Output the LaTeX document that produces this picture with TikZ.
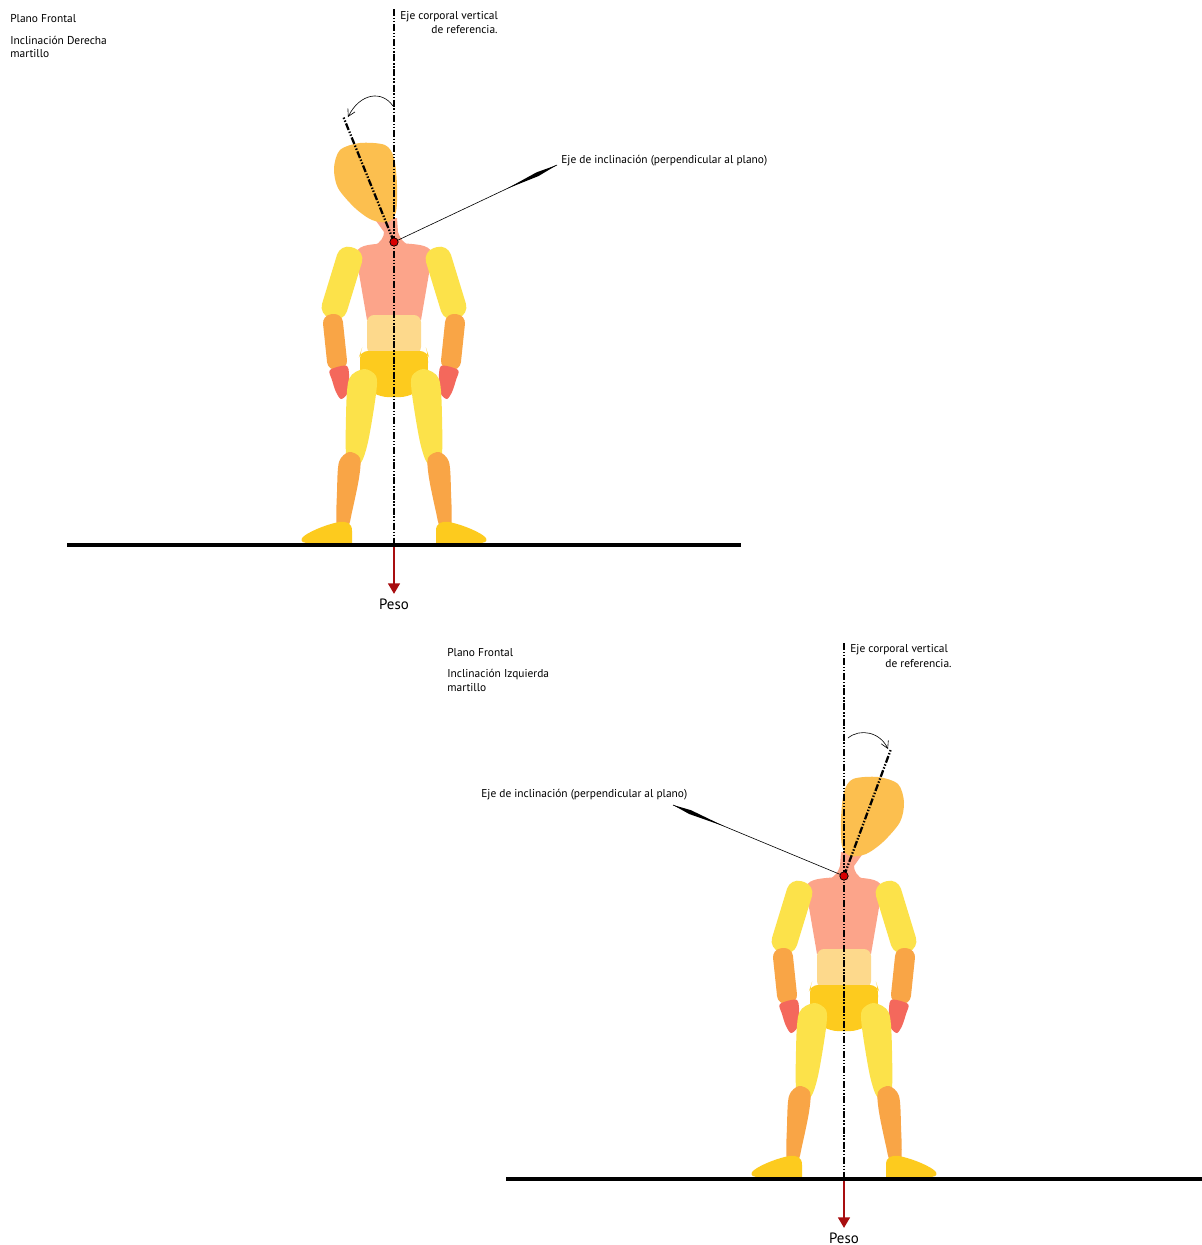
\documentclass[tikz,border=0pt]{standalone}
\usepackage{fontspec}
\setmainfont{PT Sans}
\usetikzlibrary{arrows.meta,calc}

% body colours
\definecolor{headC}{HTML}{FCBF4F}
\definecolor{torsoC}{HTML}{FCA48A}
\definecolor{limbY}{HTML}{FCE24A}
\definecolor{limbO}{HTML}{F9A546}
\definecolor{handC}{HTML}{F4685C}
\definecolor{waistC}{HTML}{FDD98C}
\definecolor{hipC}{HTML}{FDCB1E}
\definecolor{weightred}{HTML}{A80E10}

% one arm and one leg (left side of the body), origin at the base of the neck
\newcommand\figlimbs{%
  \fill[limbY, rounded corners=6.5pt, rotate around={-17:(-52,41)}] (-65,4) rectangle (-39,78);
  \fill[limbO, rounded corners=5pt, rotate around={6:(-59,100)}] (-69,72) rectangle (-49,128);
  \fill[handC] plot[smooth cycle] coordinates {(-64,128) (-47,124) (-45,140) (-47,152) (-53,157) (-58,150) (-62,138)};
  \fill[limbY] plot[smooth cycle] coordinates {(-45,137) (-30,127) (-18,134) (-18,152) (-26,200) (-34,222) (-47,222) (-48,175)};
  \fill[limbO] plot[smooth cycle] coordinates {(-55,220) (-45,210) (-34,216) (-35,236) (-42,270) (-46,284) (-57,284) (-57,250)};
  \fill[hipC] (-42,301) -- (-42,289) .. controls (-42,281) and (-47,279) .. (-55,280)
    .. controls (-70,283) and (-88,291) .. (-92,296) .. controls (-94,300) and (-90,301) .. (-85,301) -- cycle;
}

\tikzset{
  lbl/.style={font=\fontsize{6.5}{8}\selectfont, inner sep=0pt},
  pesolbl/.style={font=\fontsize{8.5}{10}\selectfont, inner sep=0pt},
  refaxis/.style={line width=1.3pt, dash pattern=on 4pt off 1pt on 0.8pt off 1pt on 0.8pt off 1pt},
  groundline/.style={line width=2.3pt},
  weight/.style={draw=weightred, line width=1.5pt, -{Triangle[length=6pt,width=6.5pt]}},
  rotarrow/.style={line width=0.35pt, -{Straight Barb[length=4pt,width=4.5pt]}},
  leader/.style={line width=0.35pt},
  pivotdot/.style={fill=red!85!black, draw=black, line width=0.4pt},
  % whole figure, origin at the base of the neck
  pics/body/.style={code={
    \fill[torsoC] (-20,-24) -- (3,-24) -- (4,-10) .. controls (6,-3) and (10,1) .. (16,4)
      -- (-20,4) .. controls (-13,0) and (-10,-5) .. (-10,-10) -- cycle;
    \fill[headC] plot[smooth cycle] coordinates {(-54,-92) (-34,-99) (-9,-97) (0,-84) (3,-57) (2,-30) (-6,-20) (-22,-22) (-39,-34) (-56,-54) (-60,-74)};
    \fill[torsoC] (-27,78) -- (-38,14) .. controls (-38,4) and (-30,2) .. (0,1)
      .. controls (30,2) and (38,4) .. (38,14) -- (27,78) -- cycle;
    \fill[waistC, rounded corners=4pt] (-27,73) rectangle (27,112);
    \fill[hipC, rounded corners=4pt] (-34,112) -- (-33,109) -- (33,109) -- (34,112) -- (34,128)
      .. controls (32,150) and (12,155) .. (0,155) .. controls (-12,155) and (-32,150) .. (-34,128) -- cycle;
    \figlimbs
    \begin{scope}[xscale=-1]
      \figlimbs
    \end{scope}
  }}
}

\begin{document}
\begin{tikzpicture}[x=0.02cm, y=-0.02cm]
\useasboundingbox[fill=white] (0,0) rectangle (1202,1245);

% ---------- right-hand tilt ----------
\node[lbl, anchor=base west] (planoA) at (10,22) {Plano Frontal};
\node[lbl, anchor=base west] (inclA) at (10,44) {Inclinación Derecha};
\node[lbl, anchor=base west] (martA) at (10,57) {martillo};

\pic at (394,242) {body};

\coordinate (pivA) at (394,242);
\coordinate (topA) at (394,9);
\coordinate (groundA) at (394,545);
\coordinate (tiltEndA) at (343,116);
\draw[refaxis] (topA) -- (groundA);
\draw[refaxis] (pivA) -- (tiltEndA);

\node[lbl, anchor=base west] (vertA) at (400,19) {Eje corporal vertical};
\node[lbl, anchor=base east] (vertA2) at (498,33) {de referencia.};
\node[lbl, anchor=base west] (tiltA) at (561,163) {Eje de inclinación (perpendicular al plano)};

\coordinate (tipA) at (557,165);
\draw[leader] (pivA) -- (tipA);
\fill ($(pivA)!0.69!(tipA)$) -- ($(pivA)!0.88!(tipA)!1.2pt!90:(tipA)$) -- (tipA)
  -- ($(pivA)!0.88!(tipA)!1.2pt!-90:(tipA)$) -- cycle;

\coordinate (rotA1) at (393,106);
\coordinate (rotA2) at (348,117);
\draw[rotarrow] (rotA1) .. controls (382,90) and (360,93) .. (rotA2);

\fill[pivotdot] (pivA) circle[radius=2.4pt];

\coordinate (floorAl) at (67,545);
\coordinate (floorAr) at (741,545);
\draw[groundline] (floorAl) -- (floorAr);
\node[pesolbl, anchor=base] (pesoA) at (394,609) {Peso};
\draw[weight] (394,547) -- (394,594);

% ---------- left-hand tilt ----------
\node[lbl, anchor=base west] (planoB) at (447,656) {Plano Frontal};
\node[lbl, anchor=base west] (inclB) at (447,677) {Inclinación Izquierda};
\node[lbl, anchor=base west] (martB) at (447,691) {martillo};

\pic[xscale=-1] at (844,876) {body};

\coordinate (pivB) at (844,876);
\coordinate (topB) at (844,643);
\coordinate (groundB) at (844,1179);
\coordinate (tiltEndB) at (891,749);
\draw[refaxis] (topB) -- (groundB);
\draw[refaxis] (pivB) -- (tiltEndB);

\node[lbl, anchor=base west] (vertB) at (850,652) {Eje corporal vertical};
\node[lbl, anchor=base east] (vertB2) at (952,667) {de referencia.};
\node[lbl, anchor=base west] (tiltB) at (481,797) {Eje de inclinación (perpendicular al plano)};

\coordinate (tipB) at (673,805);
\draw[leader] (pivB) -- (tipB);
\fill ($(pivB)!0.70!(tipB)$) -- ($(pivB)!0.90!(tipB)!1.2pt!90:(tipB)$) -- (tipB)
  -- ($(pivB)!0.90!(tipB)!1.2pt!-90:(tipB)$) -- cycle;

\coordinate (rotB1) at (848,738);
\coordinate (rotB2) at (888,749);
\draw[rotarrow] (rotB1) .. controls (860,728) and (880,732) .. (rotB2);

\fill[pivotdot] (pivB) circle[radius=2.4pt];

\coordinate (floorBl) at (506,1179);
\coordinate (floorBr) at (1202,1179);
\draw[groundline] (floorBl) -- (floorBr);
\node[pesolbl, anchor=base] (pesoB) at (844,1243) {Peso};
\draw[weight] (844,1181) -- (844,1228);
\end{tikzpicture}
\end{document}
